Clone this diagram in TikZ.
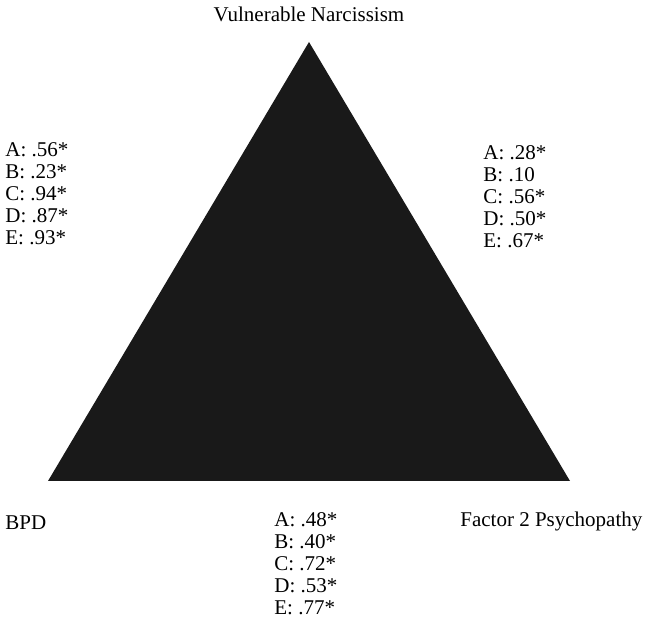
\documentclass[tikz,border=0pt]{standalone}
\usepackage{fontspec}
\setmainfont{Liberation Serif}
\usepackage{tikz}

\begin{document}
\begin{tikzpicture}[x=0.5pt, y=0.5pt,
    lbl/.style={inner sep=0pt, font=\fontsize{10.5}{11}\selectfont},
    vals/.style={lbl, align=left, anchor=west}]
    \useasboundingbox (0,0) rectangle (648,619);

    % Triangle
    \fill[black!90] (309,577) -- (48,138) -- (570,138) -- cycle;

    % Corner labels
    \node[lbl] (vn) at (309,605) {Vulnerable Narcissism};
    \node[lbl, anchor=west] (bpd) at (5,96) {BPD};
    \node[lbl, anchor=west] (fp) at (460,98) {Factor 2 Psychopathy};

    % Side values
    \node[vals] (left) at (5,425) {A: .56*\\B: .23*\\C: .94*\\D: .87*\\E: .93*};
    \node[vals] (right) at (483,422) {A: .28*\\B: .10\\C: .56*\\D: .50*\\E: .67*};
    \node[vals] (bottom) at (274,55) {A: .48*\\B: .40*\\C: .72*\\D: .53*\\E: .77*};
\end{tikzpicture}
\end{document}
